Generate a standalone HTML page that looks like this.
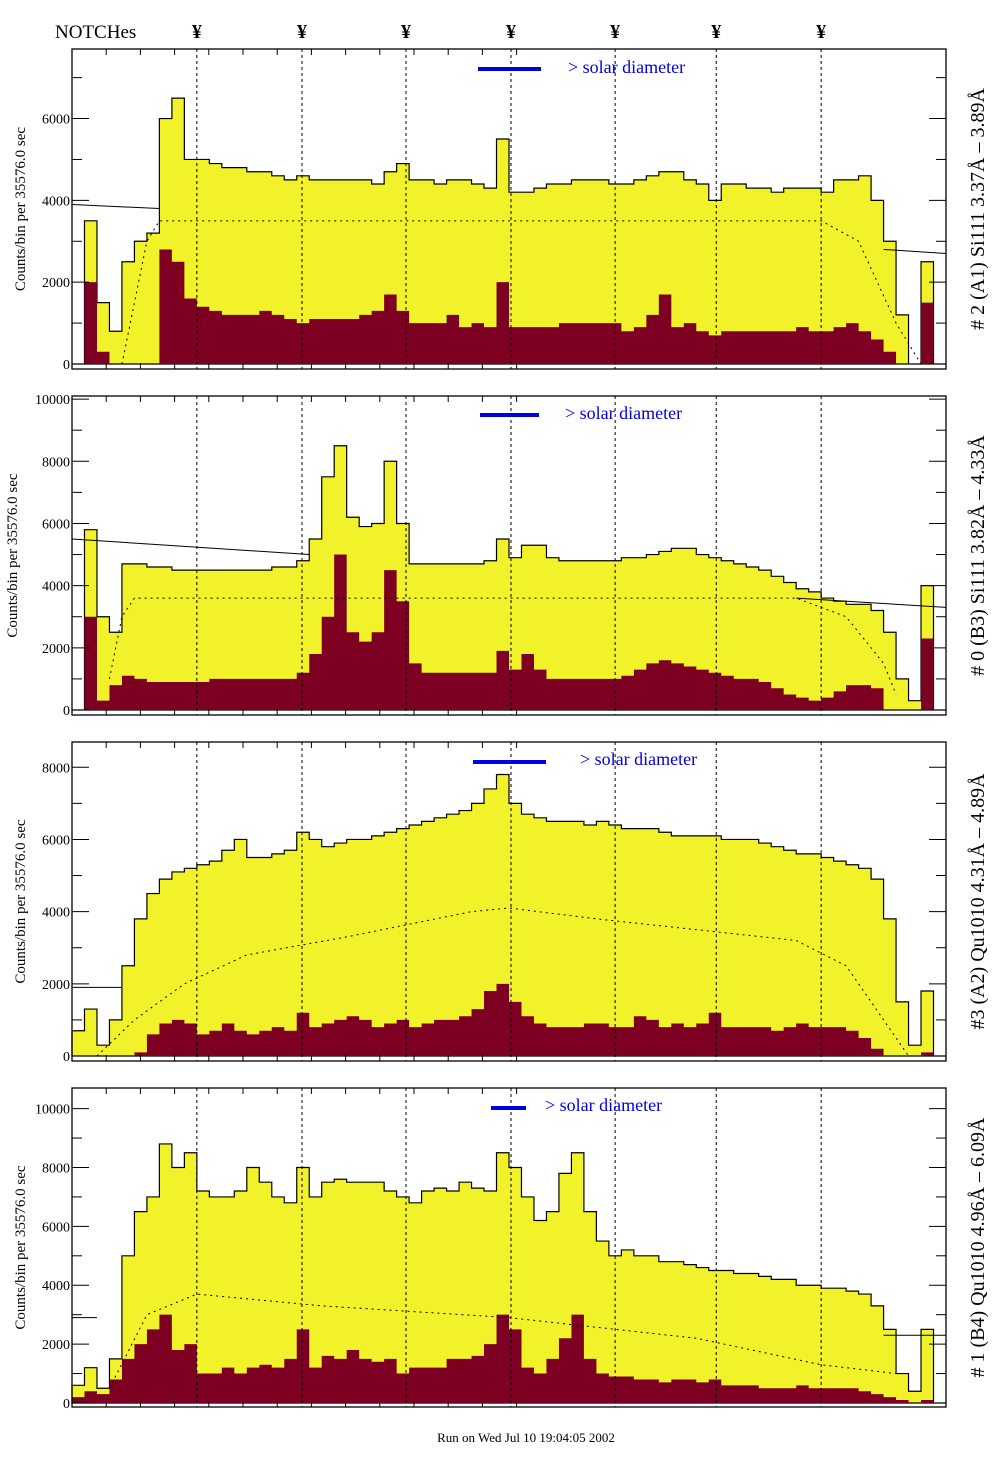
<!DOCTYPE html>
<html><head><meta charset="utf-8"><style>
body{margin:0;background:#fff}
svg{display:block;font-family:"Liberation Serif",serif}
</style></head><body>
<svg id="chart" width="1004" height="1476" viewBox="0 0 1004 1476" xmlns="http://www.w3.org/2000/svg">
<rect x="0" y="0" width="1004" height="1476" fill="#fff"/>
<text x="55" y="38" font-size="19">NOTCHes</text>
<g id="notchMarks"></g>
<g id="panels"></g>
<text x="526" y="1442" font-size="13" text-anchor="middle">Run on Wed Jul 10 19:04:05 2002</text>
</svg>
<script>
const notchPositions = [10.0, 18.42, 26.75, 35.16, 43.5, 51.6, 60.0];
const p1Yellow = [0,3500,1500,800,2500,3000,3200,6000,6500,5000,5000,4900,4800,4800,4700,4700,4600,4500,4600,4500,4500,4500,4500,4500,4400,4700,4900,4500,4500,4400,4500,4500,4400,4300,5500,4200,4200,4300,4400,4400,4500,4500,4500,4400,4400,4500,4600,4700,4700,4500,4400,4000,4400,4400,4300,4300,4200,4300,4300,4300,4200,4500,4500,4600,4000,3000,1200,0,2500,0];
const p1Red = [0,2000,300,0,0,0,0,2800,2500,1600,1400,1300,1200,1200,1200,1300,1200,1100,1000,1100,1100,1100,1100,1200,1300,1700,1300,1000,1000,1000,1200,900,1000,900,2000,900,900,900,900,1000,1000,1000,1000,1000,800,900,1200,1700,900,1000,800,700,800,800,800,800,800,800,900,800,800,900,1000,800,600,300,0,0,1500,0];
const p2Yellow = [0,5800,3000,2500,4700,4700,4600,4600,4500,4500,4500,4500,4500,4500,4500,4500,4600,4600,4800,5500,7500,8500,6200,5900,6000,8000,6000,4700,4700,4700,4700,4700,4700,4800,5500,4900,5300,5300,4900,4800,4800,4800,4800,4800,4900,4900,5000,5100,5200,5200,5000,4900,4800,4700,4600,4500,4300,4100,3900,3800,3600,3500,3400,3400,3200,2500,1000,300,4000,0];
const p2Red = [0,3000,300,800,1100,1000,900,900,900,900,900,1000,1000,1000,1000,1000,1000,1000,1200,1800,3000,5000,2500,2200,2500,4500,3500,1500,1200,1200,1200,1200,1200,1200,1900,1300,1800,1300,1000,1000,1000,1000,1000,1000,1100,1300,1500,1600,1500,1400,1300,1200,1100,1000,1000,900,700,500,400,300,400,600,800,800,700,0,0,0,2300,0];
const p3Yellow = [700,1300,300,1000,2500,3800,4500,4900,5100,5200,5300,5400,5700,6000,5500,5500,5600,5700,6200,6000,5800,5900,6000,6000,6100,6200,6300,6400,6500,6600,6700,6800,7000,7400,7800,7000,6700,6600,6500,6500,6500,6400,6500,6400,6300,6300,6300,6200,6100,6100,6100,6100,6000,6000,6000,5900,5800,5700,5600,5600,5500,5400,5300,5200,4900,3800,1500,300,1800,0];
const p3Red = [0,0,0,0,0,100,600,900,1000,900,600,700,900,700,600,700,800,700,1200,800,900,1000,1100,1000,800,900,1000,800,900,1000,1000,1100,1300,1800,2000,1500,1100,900,800,800,800,900,900,800,800,1100,1000,800,900,800,900,1200,800,800,800,800,700,800,900,800,800,800,700,500,200,0,0,0,100,0];
const p4Yellow = [600,1200,500,1500,5000,6500,7000,8800,8000,8500,7200,7000,7000,7200,8000,7500,7000,6800,8000,7000,7500,7600,7500,7500,7500,7200,7000,6800,7200,7300,7200,7500,7300,7200,8500,8000,7000,6200,6500,7800,8500,6500,5500,5000,5200,5000,5000,4800,4800,4700,4600,4500,4500,4400,4400,4300,4200,4200,4000,4000,3900,3900,3800,3700,3300,2500,1000,400,2500,0];
const p4Red = [200,400,300,800,1500,2000,2500,3000,1800,2000,1000,1000,1200,1000,1200,1300,1200,1500,2500,1200,1600,1500,1800,1500,1400,1500,1000,1200,1200,1200,1500,1500,1600,2000,3000,2500,1200,1000,1500,2200,3000,1500,1000,900,900,800,800,700,800,800,700,800,600,600,600,500,500,500,600,500,500,500,500,400,300,200,100,0,100,0];
const p1Ticks = [0,2000,4000,6000];
const p2Ticks = [0,2000,4000,6000,8000,10000];
const p3Ticks = [0,2000,4000,6000,8000];
const p4Ticks = [0,2000,4000,6000,8000,10000];
const p1Dotted = [[4,0],[5,1500],[6,3000],[7,3500],[60,3500],[63,3000],[66,1000],[68,0]];
const p2Dotted = [[3,1000],[4,3000],[5,3600],[58,3600],[62,3000],[65,1500],[66,500]];
const p3Dotted = [[2,0],[5,1000],[9,2000],[14,2800],[22,3300],[32,4000],[35,4100],[42,3800],[50,3500],[58,3200],[62,2500],[65,1000],[67,0]];
const p4Dotted = [[3,500],[6,3000],[10,3700],[20,3300],[35,2900],[50,2200],[60,1300],[66,1000]];
const p1Solid = [[[0,3900],[7,3800]],[[65,2800],[70,2700]]];
const p2Solid = [[[0,5500],[19,5000]],[[58,3600],[70,3300]]];
const p3Solid = [[[0,1900],[4,1900]]];
const p4Solid = [[[0,2900],[2,2900]],[[65,2300],[70,2300]]];
const panelTitles = ["# 2 (A1) Si111  3.37Å – 3.89Å","# 0 (B3) Si111  3.82Å – 4.33Å","#3 (A2) Qu1010  4.31Å – 4.89Å","# 1 (B4) Qu1010 4.96Å – 6.09Å"];

const panels = [
 {top:49,bottom:369,y0:364,ymax:7700,yel:p1Yellow,red:p1Red,ticks:p1Ticks,dot:p1Dotted,sol:p1Solid,bar:[478,541,69],txt:[568,73]},
 {top:396,bottom:715,y0:710,ymax:10100,yel:p2Yellow,red:p2Red,ticks:p2Ticks,dot:p2Dotted,sol:p2Solid,bar:[480,539,415],txt:[565,419]},
 {top:742,bottom:1061,y0:1056,ymax:8700,yel:p3Yellow,red:p3Red,ticks:p3Ticks,dot:p3Dotted,sol:p3Solid,bar:[473,546,762],txt:[580,765]},
 {top:1088,bottom:1407,y0:1403,ymax:10700,yel:p4Yellow,red:p4Red,ticks:p4Ticks,dot:p4Dotted,sol:p4Solid,bar:[491,526,1108],txt:[545,1111]}
];
const X0 = 72, X1 = 946, NB = 70;
const NS = "http://www.w3.org/2000/svg";
function mk(tag, attrs, parent){const e=document.createElementNS(NS,tag);for(const k in attrs)e.setAttribute(k,attrs[k]);if(parent)parent.appendChild(e);return e;}
function xs(b){return X0 + b*(X1-X0)/NB;}
const root = document.getElementById('panels');
const nm = document.getElementById('notchMarks');
notchPositions.forEach(n=>{
  const t = mk('text',{x:xs(n),y:38,'font-size':20,'font-weight':'bold','text-anchor':'middle'},nm);
  t.textContent='¥';
  
  
});
panels.forEach((p,pi)=>{
  const g = mk('g',{},root);
  
  
  const ys = v => p.y0 - v*(p.y0-p.top)/p.ymax;
  function stepPath(arr){
    let d='M'+xs(0)+','+p.y0;
    arr.forEach((v,i)=>{d+=' L'+xs(i)+','+ys(v)+' L'+xs(i+1)+','+ys(v);});
    d+=' L'+xs(NB)+','+p.y0+' Z';return d;
  }
  const yl = mk('path',{d:stepPath(p.yel),fill:'#f2f22a',stroke:'#000','stroke-width':1.2},g);
  
  
  const rd = mk('path',{d:stepPath(p.red),fill:'#7d0022',stroke:'none'},g);
  
  
  notchPositions.forEach(n=>{
    const l = mk('line',{x1:xs(n),x2:xs(n),y1:p.top,y2:p.bottom,stroke:'#000','stroke-width':1,'stroke-dasharray':'3,3'},g);
    
    
  });
  const dd = mk('polyline',{points:p.dot.map(q=>xs(q[0])+','+ys(q[1])).join(' '),fill:'none',stroke:'#000','stroke-width':1,'stroke-dasharray':'2,4'},g);
  
  
  p.sol.forEach(s=>{
    const sl = mk('line',{x1:xs(s[0][0]),y1:ys(s[0][1]),x2:xs(s[1][0]),y2:ys(s[1][1]),stroke:'#000','stroke-width':1},g);
    
    
  });
  const fr = mk('rect',{x:X0,y:p.top,width:X1-X0,height:p.bottom-p.top,fill:'none',stroke:'#000','stroke-width':1.3},g);
  
  
  const step = p.ticks[1]-p.ticks[0];
  for(let v=0; v<=p.ymax; v+=step/2){
    const major = (v % step)===0;
    const len = major?17:10;
    mk('line',{x1:X0,x2:X0+len,y1:ys(v),y2:ys(v),stroke:'#000'},g);
    mk('line',{x1:X1,x2:X1-len,y1:ys(v),y2:ys(v),stroke:'#000'},g);
  }
  for(let i=1;i<NB/5;i++){
    mk('line',{x1:X0+i*34.2,x2:X0+i*34.2,y1:p.top,y2:p.top+6,stroke:'#000'},g);
    mk('line',{x1:X0+i*34.2,x2:X0+i*34.2,y1:p.bottom,y2:p.bottom-6,stroke:'#000'},g);
  }
  p.ticks.forEach(v=>{
    const t = mk('text',{x:X0-2,y:ys(v)+5,'font-size':14,'text-anchor':'end'},g);
    t.textContent=v;
    
    
  });
  const cy=(p.top+p.bottom)/2;
  const yt = mk('text',{x:0,y:0,'font-size':15,'text-anchor':'middle',transform:'translate('+(pi==1?17:25)+','+cy+') rotate(-90)'},g);
  yt.textContent='Counts/bin per  35576.0 sec';
  
  
  const rt = mk('text',{x:0,y:0,'font-size':20,'text-anchor':'middle',transform:'translate(984,'+cy+') rotate(-90)'},g);
  rt.textContent=panelTitles[pi];
  
  
  const bar = mk('line',{x1:p.bar[0],x2:p.bar[1],y1:p.bar[2],y2:p.bar[2],stroke:'#0000e0','stroke-width':4},g);
  
  
  const st = mk('text',{x:p.txt[0],y:p.txt[1],'font-size':18,fill:'#0000e0'},g);
  st.textContent='> solar diameter';
  
  
});
</script>
</body></html>
